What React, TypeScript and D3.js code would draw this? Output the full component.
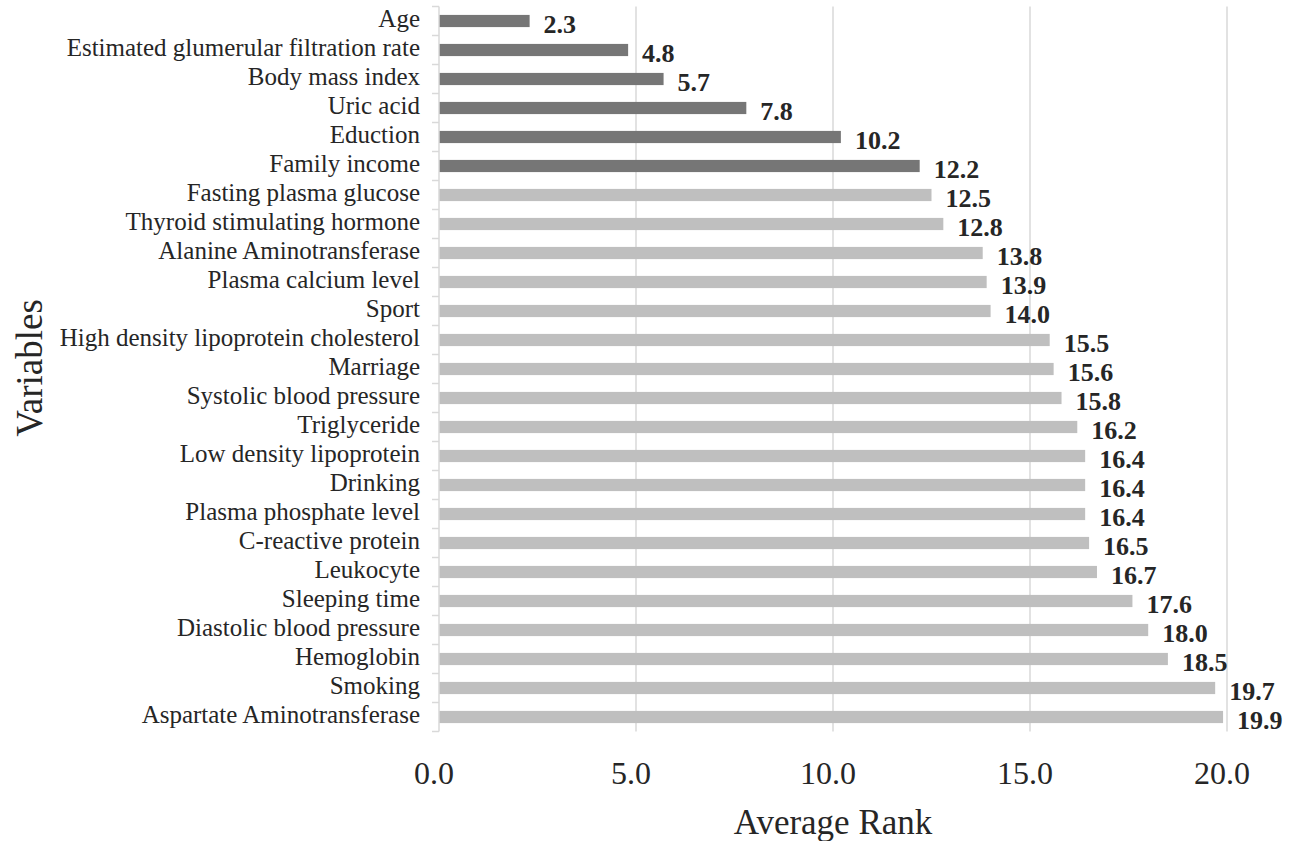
import React from "react";
import * as d3 from "d3";

const categories = [
  "Age",
  "Estimated glumerular filtration rate",
  "Body mass index",
  "Uric acid",
  "Eduction",
  "Family income",
  "Fasting plasma glucose",
  "Thyroid stimulating hormone",
  "Alanine Aminotransferase",
  "Plasma calcium level",
  "Sport",
  "High density lipoprotein cholesterol",
  "Marriage",
  "Systolic blood pressure",
  "Triglyceride",
  "Low density lipoprotein",
  "Drinking",
  "Plasma phosphate level",
  "C-reactive protein",
  "Leukocyte",
  "Sleeping time",
  "Diastolic blood pressure",
  "Hemoglobin",
  "Smoking",
  "Aspartate Aminotransferase",
];
const values = [2.3, 4.8, 5.7, 7.8, 10.2, 12.2, 12.5, 12.8, 13.8, 13.9, 14.0, 15.5, 15.6, 15.8, 16.2, 16.4, 16.4, 16.4, 16.5, 16.7, 17.6, 18.0, 18.5, 19.7, 19.9];
const highlighted = [true, true, true, true, true, true, false, false, false, false, false, false, false, false, false, false, false, false, false, false, false, false, false, false, false];
const xTicks = [0, 5, 10, 15, 20];

const W = 1292;
const H = 841;
const serif = "'Liberation Serif', 'Times New Roman', serif";

export default function App() {
  const x = d3.scaleLinear().domain([0, 20]).range([439, 1227]);
  const y = d3.scaleBand<string>().domain(categories).range([6.5, 731.5]).paddingInner(0.58).paddingOuter(0.29);
  const bandStep = y.step();
  return (
    <svg width={W} height={H} style={{ position: "absolute", left: 0, top: 0, background: "#fff" }}>
      {xTicks.slice(1).map((t) => (
        <line key={"g" + t} x1={x(t)} x2={x(t)} y1={6.5} y2={731.5} stroke="#d9d9d9" strokeWidth={1.5} />
      ))}
      {values.map((v, i) => (
        <rect
          key={"b" + i}
          x={x(0)}
          y={y(categories[i])!}
          width={x(v) - x(0)}
          height={y.bandwidth()}
          fill={highlighted[i] ? "#767676" : "#bfbfbf"}
        />
      ))}
      <line x1={x(0)} x2={x(0)} y1={6.5} y2={731.5} stroke="#d9d9d9" strokeWidth={1.5} />
      {d3.range(categories.length + 1).map((i) => (
        <line key={"t" + i} x1={432} x2={x(0)} y1={6.5 + i * bandStep} y2={6.5 + i * bandStep} stroke="#d9d9d9" strokeWidth={1.5} />
      ))}
      {categories.map((c, i) => (
        <text
          key={"c" + i}
          x={420}
          y={y(c)! + y.bandwidth() / 2}
          dy="0.25em"
          textAnchor="end"
          fontFamily={serif}
          fontSize={25}
          fill="#262626"
        >
          {c}
        </text>
      ))}
      {values.map((v, i) => (
        <text
          key={"v" + i}
          x={x(v) + 14}
          y={y(categories[i])! + y.bandwidth() / 2 + 3}
          dy="0.35em"
          fontFamily={serif}
          fontWeight="bold"
          fontSize={26}
          fill="#262626"
        >
          {d3.format(".1f")(v)}
        </text>
      ))}
      {xTicks.map((t) => (
        <text key={"xt" + t} x={x(t) - 5} y={772.5} dy="0.35em" textAnchor="middle" fontFamily={serif} fontSize={32} fill="#262626">
          {d3.format(".1f")(t)}
        </text>
      ))}
      <text x={833} y={822} dy="0.35em" textAnchor="middle" fontFamily={serif} fontSize={35} fill="#262626">
        Average Rank
      </text>
      <text
        transform="translate(29,368) rotate(-90)"
        dy="0.35em"
        textAnchor="middle"
        fontFamily={serif}
        fontSize={37}
        fill="#262626"
      >
        Variables
      </text>
    </svg>
  );
}
